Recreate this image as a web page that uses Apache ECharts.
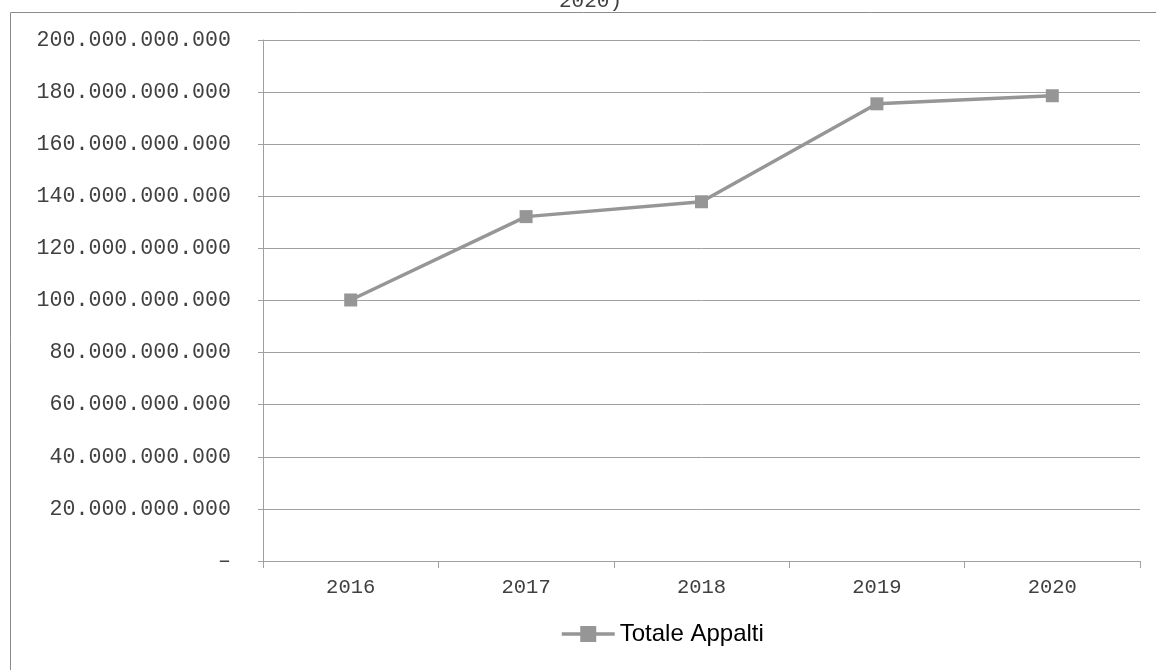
<!DOCTYPE html>
<html>
<head>
<meta charset="utf-8">
<script src="https://cdn.jsdelivr.net/npm/echarts@6/dist/echarts.min.js"></script>
<style>
html,body{margin:0;padding:0;background:#fff;}
#main{width:1156px;height:670px;}
</style>
</head>
<body>
<div id="main"></div>
<script>
var categories = ['2016', '2017', '2018', '2019', '2020'];
var seriesName = 'Totale Appalti';
var values = [100200000000, 132200000000, 137900000000, 175500000000, 178600000000];
var titleText = '2020)';

function fmt(v) {
  if (v === 0) return '\u2013';
  return String(Math.round(v)).replace(/\B(?=(\d{3})+(?!\d))/g, '.');
}

var chart = echarts.init(document.getElementById('main'));
var mono = '"Liberation Mono", "Courier New", monospace';
chart.setOption({
  animation: false,
  backgroundColor: '#fff',
  title: {
    text: titleText,
    left: 554,
    top: -14,
    textStyle: { fontFamily: mono, fontSize: 21, fontWeight: 'normal', color: '#404040' }
  },
  graphic: [{
    type: 'rect',
    shape: { x: 10.5, y: 12.5, width: 1200, height: 700 },
    style: { fill: 'none', stroke: '#8c8c8c', lineWidth: 1 },
    silent: true
  }],
  grid: { left: 263, right: 16, top: 40, bottom: 109, containLabel: false },
  legend: {
    data: [seriesName],
    left: 560,
    top: 622,
    padding: 0,
    itemWidth: 53,
    itemHeight: 20,
    itemGap: 5,
    lineStyle: { width: 3.5, color: '#969696' },
    textStyle: { fontFamily: '"Liberation Sans", Arial, sans-serif', fontSize: 24, color: '#000', padding: [0, 0, 0, 0] }
  },
  xAxis: {
    type: 'category',
    data: categories,
    boundaryGap: true,
    axisLine: { lineStyle: { color: '#a0a0a0', width: 1 } },
    axisTick: { show: true, length: 7, alignWithLabel: false, lineStyle: { color: '#a0a0a0' } },
    axisLabel: { fontFamily: mono, fontSize: 20.5, color: '#404040', margin: 16 }
  },
  yAxis: {
    type: 'value',
    min: 0,
    max: 200000000000,
    interval: 20000000000,
    axisLine: { show: true, lineStyle: { color: '#a0a0a0', width: 1 } },
    axisTick: { show: true, length: 5, lineStyle: { color: '#a0a0a0' } },
    splitLine: { show: true, lineStyle: { color: '#a0a0a0', width: 1 } },
    axisLabel: { fontFamily: mono, fontSize: 21.6, color: '#404040', margin: 32, formatter: fmt }
  },
  series: [{
    name: seriesName,
    type: 'line',
    data: values,
    symbol: 'rect',
    symbolSize: 13,
    itemStyle: { color: '#969696' },
    lineStyle: { color: '#969696', width: 3.5 }
  }]
});
</script>
</body>
</html>
